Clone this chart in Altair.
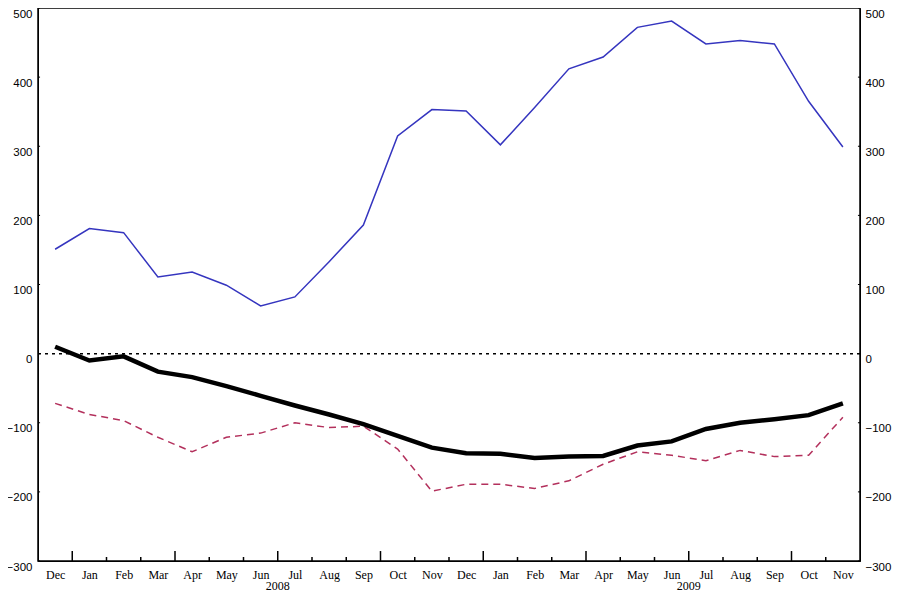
import altair as alt
import pandas as pd

months = ["Dec", "Jan", "Feb", "Mar", "Apr", "May", "Jun", "Jul", "Aug", "Sep", "Oct", "Nov",
          "Dec", "Jan", "Feb", "Mar", "Apr", "May", "Jun", "Jul", "Aug", "Sep", "Oct", "Nov"]
blue = [151, 181, 175, 111, 118, 99, 69, 82, 133, 186, 315, 353,
        351, 302, 356, 412, 429, 472, 481, 448, 453, 448, 365, 299]
black = [10, -10, -4, -26, -34, -47, -61, -75, -88, -102, -119, -136,
         -144, -145, -151, -149, -148, -133, -127, -109, -100, -95, -89, -72]
red = [-72, -88, -97, -121, -142, -121, -115, -100, -107, -105, -138, -199,
       -189, -189, -195, -184, -160, -142, -147, -155, -140, -149, -147, -92]
years = ["2008", "2009"]
year_pos = [6.5, 18.5]
y_ticks = [-300, -200, -100, 0, 100, 200, 300, 400, 500]

W, H = 822, 553

idx = list(range(len(months)))
df = pd.DataFrame({"i": idx, "blue": blue, "black": black, "red": red})

bounds = [k + 0.5 for k in range(len(months) - 1)]
ticks_df = pd.DataFrame({"b": bounds})
ticks_df["base"] = -300
ticks_df["top"] = [-300 + (14.4 if (k % 3 == 0) else 5.8) for k in range(len(bounds))]

ytick_df = pd.DataFrame({"v": y_ticks * 2,
                         "x0": [-0.5] * len(y_ticks) + [23.44] * len(y_ticks),
                         "x1": [-0.44] * len(y_ticks) + [23.5] * len(y_ticks)})

zero_df = pd.DataFrame({"v": [0]})
year_df = pd.DataFrame({"p": year_pos, "year": years})

month_arr = "[" + ",".join("'%s'" % m for m in months) + "]"

xscale = alt.Scale(domain=[-0.5, 23.5], nice=False, zero=False)
xaxis = alt.Axis(values=idx, labelExpr=month_arr + "[datum.value]", tickSize=0, grid=False,
                 title=None, domainColor="black", labelFont="Liberation Serif",
                 labelFontSize=12, labelPadding=8, labelColor="black", labelBaseline="top")
yscale = alt.Scale(domain=[-300, 500], nice=False, zero=False)


def yaxis(orient, pad):
    return alt.Axis(values=y_ticks, orient=orient, tickSize=0, grid=False, title=None,
                    domainColor="black", labelFont="Liberation Sans", labelFontSize=11.5,
                    labelPadding=pad, labelColor="black", labelOffset=6)


base = alt.Chart(df)

zero = alt.Chart(zero_df).mark_rule(color="black", strokeDash=[3, 4], strokeWidth=1.5).encode(
    y=alt.Y("v:Q", scale=yscale, axis=None))

blue_line = base.mark_line(color="#3535bf", strokeWidth=1.5).encode(
    x=alt.X("i:Q", scale=xscale, axis=xaxis),
    y=alt.Y("blue:Q", scale=yscale, axis=yaxis("right", 5)))

red_line = base.mark_line(color="#b3305c", strokeWidth=1.5, strokeDash=[7, 5]).encode(
    x=alt.X("i:Q", scale=xscale, axis=xaxis),
    y=alt.Y("red:Q", scale=yscale, axis=None))

black_line = base.mark_line(color="black", strokeWidth=4.5).encode(
    x=alt.X("i:Q", scale=xscale, axis=xaxis),
    y=alt.Y("black:Q", scale=yscale, axis=yaxis("left", 6)))

xticks = alt.Chart(ticks_df).mark_rule(color="black", strokeWidth=1.5).encode(
    x=alt.X("b:Q", scale=xscale, axis=xaxis),
    y=alt.Y("base:Q", scale=yscale, axis=None),
    y2="top:Q")

yticks = alt.Chart(ytick_df).mark_rule(color="black", strokeWidth=1).encode(
    x=alt.X("x0:Q", scale=xscale, axis=xaxis),
    x2="x1:Q",
    y=alt.Y("v:Q", scale=yscale, axis=None))

year_text = alt.Chart(year_df).mark_text(font="Liberation Serif", fontSize=12, color="black",
                                         baseline="middle").encode(
    x=alt.X("p:Q", scale=xscale, axis=xaxis),
    y=alt.value(H + 25),
    text="year:N")

chart = alt.layer(zero, red_line, blue_line, black_line, xticks, yticks, year_text).resolve_scale(
    y="shared").resolve_axis(y="independent").properties(
    width=W, height=H,
    autosize=alt.AutoSizeParams(type="none"),
    padding={"left": 30, "top": 0, "right": 34, "bottom": 31},
    background="white",
).configure_view(stroke="black", strokeWidth=1.5)

chart.save("out.html", embed_options={"renderer": "svg", "actions": False})
